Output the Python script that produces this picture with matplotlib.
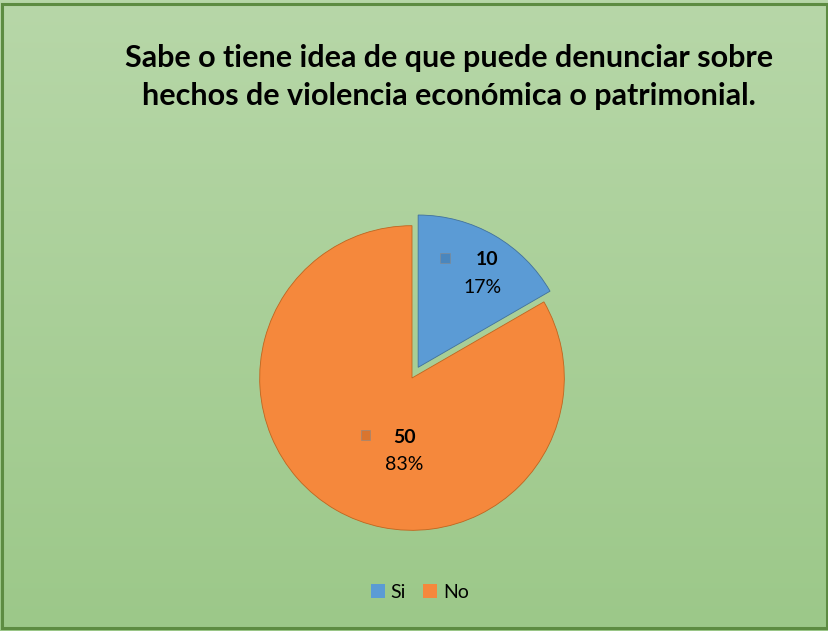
import matplotlib
matplotlib.use("Agg")
import matplotlib.pyplot as plt
import numpy as np
from matplotlib.patches import Rectangle

# data
categories = ["Si", "No"]
counts = [10, 50]
colors = ["#5b9bd5", "#f5883c"]
explode = [0.08, 0.0]

TITLE = ("Sabe o tiene idea de que puede denunciar sobre\n"
         "hechos de violencia económica o patrimonial.")

plt.rcParams["font.family"] = ["Lato", "DejaVu Sans"]

W, H = 829, 631
fig = plt.figure(figsize=(W / 100, H / 100), dpi=100)

# green gradient background + border
bg = fig.add_axes([0, 0, 1, 1], zorder=0)
top = np.array([0xb7, 0xd7, 0xa8]) / 255
bot = np.array([0x9c, 0xc8, 0x89]) / 255
t = np.linspace(0, 1, 256)[:, None]
grad = (top[None, :] * (1 - t) + bot[None, :] * t)[:, None, :]
bg.imshow(grad, aspect="auto", extent=[0, 1, 0, 1])
bg.add_patch(Rectangle((0.002, 0.004), 0.995, 0.99, transform=bg.transAxes,
                       fill=False, edgecolor="#5d8c42", lw=2.2))
bg.set_xlim(0, 1)
bg.set_ylim(0, 1)
bg.axis("off")

fig.text(449 / W, 1 - 77 / H, TITLE, ha="center", va="center",
         fontsize=22, fontweight="bold", color="black", linespacing=1.45)

# pie axes: centre ~ (412, 378) px, radius ~ 152 px
size = 400
cx, cy = 412, 378
ax = fig.add_axes([(cx - size / 2) / W, 1 - (cy + size / 2) / H, size / W, size / H],
                  zorder=1)

wedges, _ = ax.pie(counts, colors=colors, explode=explode, startangle=90,
                   counterclock=False, radius=0.99,
                   wedgeprops=dict(edgecolor="none"))
for w, c in zip(wedges, ["#41719c", "#c0651f"]):
    w.set_edgecolor(c)
    w.set_linewidth(0.6)
ax.set_xlim(-1.3, 1.3)
ax.set_ylim(-1.3, 1.3)
ax.set_aspect("equal")
ax.axis("off")

total = sum(counts)
# (count x, count y, pct x, pct y, marker x, marker y)
label_pos = [(0.49, 0.77, 0.46, 0.59, 0.215, 0.78),
             (-0.05, -0.385, -0.05, -0.565, -0.30, -0.37)]
marker_cols = ["#4a86bd", "#d9752f"]
for (nx, ny, px, py, mx, my), n, mc in zip(label_pos, counts, marker_cols):
    ax.text(nx, ny, f"{n}", ha="center", va="center",
            fontsize=14, fontweight="bold", color="black")
    ax.text(px, py, f"{n / total:.0%}", ha="center", va="center",
            fontsize=14, color="black")
    ax.add_patch(Rectangle((mx - 0.03, my - 0.03), 0.06, 0.06,
                           facecolor=mc, edgecolor="#8a8a8a", lw=0.4))

handles = [Rectangle((0, 0), 1, 1, facecolor=c, edgecolor="none") for c in colors]
fig.legend(handles, categories, loc="center", bbox_to_anchor=(420 / W, 1 - 592 / H),
           ncol=2, frameon=False, fontsize=14, handlelength=0.7, handleheight=0.7,
           handletextpad=0.3, columnspacing=0.9)

fig.savefig("out.png", dpi=100)
